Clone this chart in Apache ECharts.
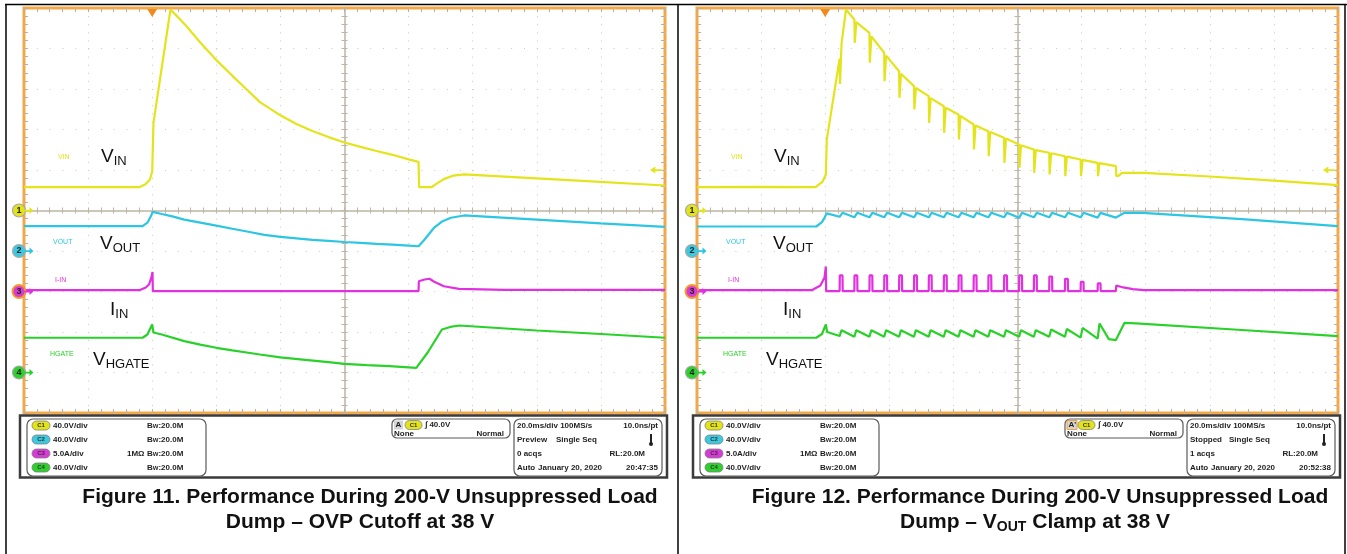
<!DOCTYPE html>
<html><head><meta charset="utf-8">
<script src="https://cdn.jsdelivr.net/npm/echarts/dist/echarts.min.js"></script>
<style>html,body{margin:0;padding:0;background:#fff}#c{width:1347px;height:554px}</style>
</head><body><div id="c"></div><script>
// ---------- scope settings ----------
const timeMin = -40, timeMax = 160;            // ms (20 ms/div, trigger 2 div from left)
const divMin = -5, divMax = 5;                 // 10 x 10 graticule
const channelNames = ['VIN', 'VOUT', 'I-IN', 'HGATE'];
const channelPerDiv = [40, 40, 5, 40];         // V/div, V/div, A/div, V/div
const channelGroundDiv = [0, -1, -2, -4];      // ground marker position in divisions
const triggerLevel = 40;                       // V on C1

// ---------- Figure 11 traces [ms, value] ----------
const fig11Vin = [[-40,23.0],[-20,23.0],[-4.1,23.0],[-2.2,25.7],[-0.7,30.6],[0.0,38.5],[0.4,86.6],[5.7,198.5],[8,191],[10.7,182],[15,166],[20.2,148],[25,133],[30,118],[33.6,107],[40,94],[45,85.5],[50,78.5],[55,72.5],[60,67.2],[65,62.8],[70,58.8],[75,55],[80,50.5],[83.1,48],[83.3,23],[87.1,23],[89,27],[91,31],[94,34.5],[97.3,35.6],[110,33.4],[130,30],[160,24.7]];
const fig11Vout = [[-40,24.5],[-3,24.5],[-1.5,28],[-0.3,35],[0.1,38.7],[3,36.5],[6.6,34],[10,31],[15,28],[20,25],[25,22],[30,19],[35,16],[40,14],[45,12.5],[50,11],[55,10],[60,8.9],[65,8],[70,7],[75,6.2],[80,5.3],[83.1,4.7],[85,11.4],[88,23.2],[90.4,29.1],[93.2,32.8],[97.3,35.1],[120,31],[140,27.3],[160,23.9]];
const fig11Iin = [[-40,0.16],[-4,0.16],[-2,0.5],[-1,0.86],[-0.2,1.8],[0.1,2.4],[0.2,0.04],[83.1,0.04],[83.2,1.27],[85,1.48],[86.5,1.57],[88,1.2],[91,0.65],[95.7,0.33],[110,0.2],[160,0.2]];
const fig11Hgate = [[-40,34.3],[-3,34.3],[-1.5,37.5],[0,47.4],[0.4,39.5],[3,37.5],[10,31],[15,27.5],[20,24.4],[25,21.8],[30,19.5],[33.6,17.8],[40,15],[47,12.8],[55,10.3],[60,8.6],[67,7.3],[74,6.2],[82.4,4.6],[86,20],[90.4,42.5],[93,45],[95.8,46.4],[120,41.5],[140,38],[160,34.3]];

// ---------- Figure 12 traces ----------
const fig12PulseTimes = [4.5,9.1,13.8,18.4,23.05,27.7,32.3,37.0,41.6,46.3,50.9,55.8,60.5,65.1,69.9,74.8,79.7,85.0];
const fig12VinBefore = [150,188.6,175.5,155.8,137.6,122.8,112.9,103.0,94.8,84.9,78.3,71.8,65.2,60.2,57.0,53.6,50.4,47.1];
const fig12VinDip    = [125,165.6,145.9,127.7,111.3,99.8,86.6,76.7,70.1,60.2,53.6,47.1,42.2,37.2,35.6,33.9,33.9,33.9];
const fig12VinAfter  = [165,186,172,153,135,121,111,101.5,93.5,84,77.5,71,64.5,59.7,56.5,53.2,50,46.8];
const fig12VinRise = [[-40,23],[-20,23.4],[-3,23],[-0.8,28.6],[0.2,35.6],[0.5,70],[6.5,198.5]];
const fig12VinTail = [[90.7,43.8],[90.85,33.9],[91.6,34.5],[92.6,37.2],[99.4,37.2],[120,33.6],[140,29.6],[160,25]];

const fig12VoutLow  = [33.8,33.3,33.3,33.3,33.3,33.3,33.3,33.3,33.3,33.3,33.3,33.3,32.8,33.3,33.3,33.3,33.3,33.0];
const fig12VoutHigh = [37.7,37.7,37.7,37.7,37.7,37.7,37.7,37.7,37.7,37.7,37.7,37.7,37.7,37.7,37.7,37.7,37.7,37.7];
const fig12VoutRise = [[-40,24.2],[-2.8,24.2],[-1,28.5],[-0.2,33],[0.5,37.2]];
const fig12VoutTail = [[90.7,33.0],[93.4,37.7],[99,37.7],[130,31.5],[160,24.5]];

const fig12IinPeak = [1.98,1.98,1.98,1.98,1.98,1.98,1.98,1.98,1.98,1.98,1.98,1.98,1.98,1.98,1.85,1.57,1.2,1.0];
const fig12IinBase = 0.04;
const fig12IinRise = [[-40,0.16],[-4.2,0.16],[-1.5,0.74],[-0.2,1.73],[0.2,3.1],[0.3,0.04]];
const fig12IinTail = [[90.7,0.04],[90.8,0.74],[93,0.5],[96,0.3],[99.4,0.16],[160,0.16]];

const fig12HgateLow  = [36,35.3,35.3,35.3,35.3,35.3,35.3,35.3,35.3,35.3,35.3,35.3,35.3,35.3,35.3,35.3,34.5,33.5];
const fig12HgateHigh = [41.8,41.8,41.8,41.8,41.8,41.8,41.8,41.8,41.8,41.8,41.8,41.8,41.8,41.8,42.5,43,44.1,48.4];
const fig12HgateRise = [[-40,34.3],[-2.8,34.3],[-1,38],[0.2,47.4],[0.6,40]];
const fig12HgateTail = [[88.5,33],[90.7,32],[93.4,49.1],[97,48.5],[130,42],[160,35.9]];

// ---------- build pulse-train traces from the read levels ----------
function byTime(a, b) { return a[0] - b[0]; }
const fig12Vin = fig12VinRise.slice();
fig12PulseTimes.forEach((t, i) => fig12Vin.push([t, fig12VinBefore[i]], [t + 0.12, fig12VinDip[i]], [t + 0.45, fig12VinDip[i]], [t + 0.6, fig12VinAfter[i]]));
fig12Vin.push(...fig12VinTail); fig12Vin.sort(byTime);
const fig12Vout = fig12VoutRise.slice();
fig12PulseTimes.forEach((t, i) => fig12Vout.push([t, fig12VoutLow[i]], [t + 0.9, fig12VoutHigh[i]]));
fig12Vout.push(...fig12VoutTail); fig12Vout.sort(byTime);
const fig12Iin = fig12IinRise.slice();
fig12PulseTimes.forEach((t, i) => fig12Iin.push([t, fig12IinBase], [t + 0.05, fig12IinPeak[i]], [t + 0.9, fig12IinPeak[i]], [t + 0.95, fig12IinBase]));
fig12Iin.push(...fig12IinTail); fig12Iin.sort(byTime);
const fig12Hgate = fig12HgateRise.slice();
fig12PulseTimes.forEach((t, i) => fig12Hgate.push([t, fig12HgateLow[i]], [t + 0.6, fig12HgateHigh[i]]));
fig12Hgate.push(...fig12HgateTail); fig12Hgate.sort(byTime);

const figTraces = [[fig11Vin, fig11Vout, fig11Iin, fig11Hgate], [fig12Vin, fig12Vout, fig12Iin, fig12Hgate]];

// ---------- texts ----------
const panelChannelText = ['40.0V/div', '40.0V/div', '5.0A/div', '40.0V/div'];
const panelStatus = [
  { trig: 'A', state: 'Preview', acqs: '0 acqs', time: '20:47:35' },
  { trig: "A'", state: 'Stopped', acqs: '1 acqs', time: '20:52:38' }
];
const captions = [
  ['Figure 11. Performance During 200-V Unsuppressed Load', '{b|Dump – OVP Cutoff at 38 V}'],
  ['Figure 12. Performance During 200-V Unsuppressed Load', '{b|Dump – V}{s|OUT}{b| Clamp at 38 V}']
];

// ---------- styles / layout ----------
const traceColors = ['#e4e41c', '#2cc6e2', '#e030df', '#2ad12a'];
const badgeColors = ['#e3e31a', '#3cc9e0', '#d83ad8', '#2fcf2f'];
const FONT = '"Liberation Sans", Arial, sans-serif';
const gridLeft = [24, 697], gridTop = 8, gridW = 641, gridH = 405;
const figShift = [0, 673];
const dotColor = '#cfc8bb', tickColor = '#b8af9e', centerColor = '#bdb5a5';

const grids = [], xAxes = [], yAxes = [], series = [];
for (let g = 0; g < 2; g++) {
  grids.push({ left: gridLeft[g], top: gridTop, width: gridW, height: gridH, show: true, borderColor: '#f4a745', borderWidth: 3, backgroundColor: '#fff', containLabel: false });
  const xb = 5 * g, yb = 8 * g;
  const tick = { show: true, inside: true, length: 4, lineStyle: { color: tickColor, width: 1 } };
  const minor = { show: true, splitNumber: 5, length: 4, lineStyle: { color: tickColor, width: 1 } };
  const ctick = { show: true, inside: true, length: 3, lineStyle: { color: centerColor, width: 1 } };
  const cminor = { show: true, splitNumber: 5, length: 3, lineStyle: { color: centerColor, width: 1 } };
  xAxes.push(
    { gridIndex: g, type: 'value', min: divMin, max: divMax, interval: 1, position: 'bottom', axisLine: { show: false, onZero: false }, axisTick: tick, minorTick: minor, axisLabel: { show: false }, splitLine: { show: true, lineStyle: { color: dotColor, width: 1, type: [1, 7.1] } } },
    { gridIndex: g, type: 'value', min: divMin, max: divMax, interval: 1, position: 'top', axisLine: { show: false, onZero: false }, axisTick: tick, minorTick: minor, axisLabel: { show: false }, splitLine: { show: false } },
    { gridIndex: g, type: 'value', min: divMin, max: divMax, interval: 1, position: 'bottom', axisLine: { show: true, onZero: true, onZeroAxisIndex: yb, lineStyle: { color: centerColor, width: 1.5 } }, axisTick: ctick, minorTick: cminor, axisLabel: { show: false }, splitLine: { show: false } },
    { gridIndex: g, type: 'value', min: divMin, max: divMax, interval: 1, position: 'top', axisLine: { show: false, onZero: true, onZeroAxisIndex: yb }, axisTick: ctick, minorTick: cminor, axisLabel: { show: false }, splitLine: { show: false } },
    { gridIndex: g, type: 'value', min: timeMin, max: timeMax, interval: 20, show: false }
  );
  yAxes.push(
    { gridIndex: g, type: 'value', min: divMin, max: divMax, interval: 1, position: 'left', axisLine: { show: false, onZero: false }, axisTick: tick, minorTick: minor, axisLabel: { show: false }, splitLine: { show: true, lineStyle: { color: dotColor, width: 1, type: [1, 11.82] } } },
    { gridIndex: g, type: 'value', min: divMin, max: divMax, interval: 1, position: 'right', axisLine: { show: false, onZero: false }, axisTick: tick, minorTick: minor, axisLabel: { show: false }, splitLine: { show: false } },
    { gridIndex: g, type: 'value', min: divMin, max: divMax, interval: 1, position: 'left', axisLine: { show: true, onZero: true, onZeroAxisIndex: xb, lineStyle: { color: centerColor, width: 1.5 } }, axisTick: ctick, minorTick: cminor, axisLabel: { show: false }, splitLine: { show: false } },
    { gridIndex: g, type: 'value', min: divMin, max: divMax, interval: 1, position: 'right', axisLine: { show: false, onZero: true, onZeroAxisIndex: xb }, axisTick: ctick, minorTick: cminor, axisLabel: { show: false }, splitLine: { show: false } }
  );
  for (let c = 0; c < 4; c++) {
    yAxes.push({ gridIndex: g, type: 'value', min: (divMin - channelGroundDiv[c]) * channelPerDiv[c], max: (divMax - channelGroundDiv[c]) * channelPerDiv[c], show: false });
  }
  for (let c = 3; c >= 0; c--) {
    const mp = [
      { coord: [timeMin, 0], symbol: 'circle', symbolSize: 13, symbolOffset: [-5, 0],
        itemStyle: { color: badgeColors[c], borderColor: c === 2 ? '#f39a2a' : '#a8a8a8', borderWidth: c === 2 ? 2 : 1.2 },
        label: { show: true, position: 'inside', formatter: String(c + 1), color: '#222', fontSize: 9, fontWeight: 'bold', fontFamily: FONT } },
      { coord: [timeMin, 0], symbol: 'path://M0,3 L5,3 L5,0 L9,4 L5,8 L5,5 L0,5 Z', symbolSize: [9, 7], symbolOffset: [5, 0],
        itemStyle: { color: traceColors[c] }, label: { show: false } }
    ];
    if (c === 0) {
      mp.push({ coord: [0, divMax * channelPerDiv[0]], symbol: 'triangle', symbolRotate: 180, symbolSize: [10, 8], symbolOffset: [0, 5], itemStyle: { color: '#f08a1c' }, label: { show: false } });
      mp.push({ coord: [timeMax, triggerLevel], symbol: 'path://M9,3 L4,3 L4,0 L0,4 L4,8 L4,5 L9,5 Z', symbolSize: [12, 7], symbolOffset: [-9, 0], itemStyle: { color: traceColors[0] }, label: { show: false } });
    }
    series.push({
      type: 'line', name: channelNames[c], xAxisIndex: xb + 4, yAxisIndex: yb + 4 + c,
      data: figTraces[g][c], showSymbol: false, symbol: 'none', smooth: false, silent: true,
      lineStyle: { color: traceColors[c], width: 2.2 }, z: 3 + (3 - c),
      markPoint: { silent: true, animation: false, data: mp }
    });
  }
}

// ---------- graphic: frames, labels, status panel, captions ----------
const G = [];
function txt(x, y, text, o) {
  o = o || {};
  G.push({ type: 'text', x: x, y: y, z: 50, silent: true, style: Object.assign({ text: text, fill: o.fill || '#1e1e1e', font: o.font || ('bold 8px ' + FONT), textAlign: o.align || 'left', textVerticalAlign: 'middle' }, o.rich ? { rich: o.rich } : {}) });
}
function rect(x, y, w, h, o) {
  G.push({ type: 'rect', z: 40, silent: true, shape: { x: x, y: y, width: w, height: h, r: o.r || 0 }, style: { fill: o.fill || 'none', stroke: o.stroke || 'none', lineWidth: o.lw || 1 } });
}
function line(x1, y1, x2, y2, o) {
  G.push({ type: 'line', z: 60, silent: true, shape: { x1: x1, y1: y1, x2: x2, y2: y2 }, style: { stroke: o.stroke || '#000', lineWidth: o.lw || 1 } });
}
// table frame
line(5, 4.5, 1347, 4.5, { lw: 1.5 });
line(6, 4, 6, 554, { lw: 1.5 });
line(678, 4, 678, 554, { lw: 1.5 });
line(1345, 4, 1345, 554, { lw: 1.5 });

const smallLabelPos = [[58, 157], [53, 242], [55, 280], [50, 354]];
const bigLabel = [
  { x: 101, y: 157, main: 'V', sub: 'IN' },
  { x: 100, y: 244, main: 'V', sub: 'OUT' },
  { x: 110, y: 310, main: 'I', sub: 'IN' },
  { x: 93, y: 360, main: 'V', sub: 'HGATE' }
];
const labelRich = {
  m: { fontSize: 19, fontFamily: FONT, lineHeight: 22, verticalAlign: 'middle', fill: '#111', color: '#111' },
  s: { fontSize: 13, fontFamily: FONT, lineHeight: 12, verticalAlign: 'bottom', fill: '#111', color: '#111' }
};
for (let g = 0; g < 2; g++) {
  const dx = figShift[g];
  for (let c = 0; c < 4; c++) {
    txt(smallLabelPos[c][0] + dx, smallLabelPos[c][1], channelNames[c], { fill: traceColors[c], font: '7px ' + FONT });
    const b = bigLabel[c];
    txt(b.x + dx, b.y, '{m|' + b.main + '}{s|' + b.sub + '}', { rich: labelRich, fill: '#111', font: '19px ' + FONT });
  }
  // status panel
  const px = 20 + dx;
  rect(px, 415.5, 647, 62, { stroke: '#3b3b3b', lw: 2.5, fill: '#fff' });
  rect(27 + dx, 419, 179, 57, { r: 6, stroke: '#5a5a5a', lw: 1.2, fill: '#fff' });
  const rows = [425.5, 439.5, 453.5, 467.5];
  for (let c = 0; c < 4; c++) {
    rect(32 + dx, rows[c] - 4.5, 18, 9, { r: 4.5, fill: badgeColors[c], stroke: '#808080', lw: 0.8 });
    txt(41 + dx, rows[c], 'C' + (c + 1), { align: 'center', font: 'bold 6px ' + FONT, fill: '#333' });
    txt(53 + dx, rows[c], panelChannelText[c]);
    txt(147 + dx, rows[c], '{a|B}{w|W}{a|:20.0M}', { rich: { a: { font: 'bold 8px ' + FONT, fill: '#1e1e1e', color: '#1e1e1e' }, w: { font: 'bold 6px ' + FONT, fill: '#1e1e1e', color: '#1e1e1e', verticalAlign: 'bottom', lineHeight: 6 } } });
  }
  txt(127 + dx, rows[2], '1MΩ');
  // trigger box
  rect(392 + dx, 419, 118, 19, { r: 5, stroke: '#5a5a5a', lw: 1.2, fill: '#fff' });
  rect(394 + dx, 420.5, g ? 10 : 9, 9, { fill: '#d4d4d4', stroke: g ? '#f0a040' : 'none', lw: 1 });
  txt(395.5 + dx, 425, panelStatus[g].trig);
  rect(405 + dx, 420.5, 17, 9, { r: 4.5, fill: badgeColors[0], stroke: '#808080', lw: 0.8 });
  txt(413.5 + dx, 425, 'C1', { align: 'center', font: 'bold 6px ' + FONT, fill: '#333' });
  txt(425 + dx, 425, '∫ 40.0V');
  txt(394 + dx, 433.5, 'None');
  txt(504 + dx, 433.5, 'Normal', { align: 'right' });
  // acquisition box
  rect(514 + dx, 419, 148, 57, { r: 6, stroke: '#5a5a5a', lw: 1.2, fill: '#fff' });
  txt(517 + dx, rows[0], '20.0ms/div 100MS/s');
  txt(658 + dx, rows[0], '10.0ns/pt', { align: 'right' });
  txt(517 + dx, rows[1], panelStatus[g].state);
  txt(556 + dx, rows[1], 'Single Seq');
  line(651 + dx, 434, 651 + dx, 443, { lw: 2, stroke: '#222' });
  G.push({ type: 'circle', z: 60, silent: true, shape: { cx: 651 + dx, cy: 444, r: 2 }, style: { fill: '#222' } });
  txt(517 + dx, rows[2], panelStatus[g].acqs);
  txt(645 + dx, rows[2], 'RL:20.0M', { align: 'right' });
  txt(517 + dx, rows[3], 'Auto');
  txt(538 + dx, rows[3], 'January 20, 2020');
  txt(658 + dx, rows[3], panelStatus[g].time, { align: 'right' });
}
const capCenters = [[370, 360], [1040, 1035]];
const capRich = {
  b: { font: 'bold 21px ' + FONT, fill: '#111', color: '#111', lineHeight: 24, verticalAlign: 'middle' },
  s: { font: 'bold 14px ' + FONT, fill: '#111', color: '#111', lineHeight: 12, verticalAlign: 'bottom' }
};
for (let g = 0; g < 2; g++) {
  txt(capCenters[g][0], 497, captions[g][0], { align: 'center', font: 'bold 21px ' + FONT, fill: '#111' });
  txt(capCenters[g][1], 522, captions[g][1], { align: 'center', font: 'bold 21px ' + FONT, fill: '#111', rich: capRich });
}

const chart = echarts.init(document.getElementById('c'), null, { renderer: 'canvas' });
chart.setOption({
  animation: false,
  backgroundColor: '#fff',
  grid: grids, xAxis: xAxes, yAxis: yAxes, series: series,
  graphic: { elements: G }
});
</script></body></html>
